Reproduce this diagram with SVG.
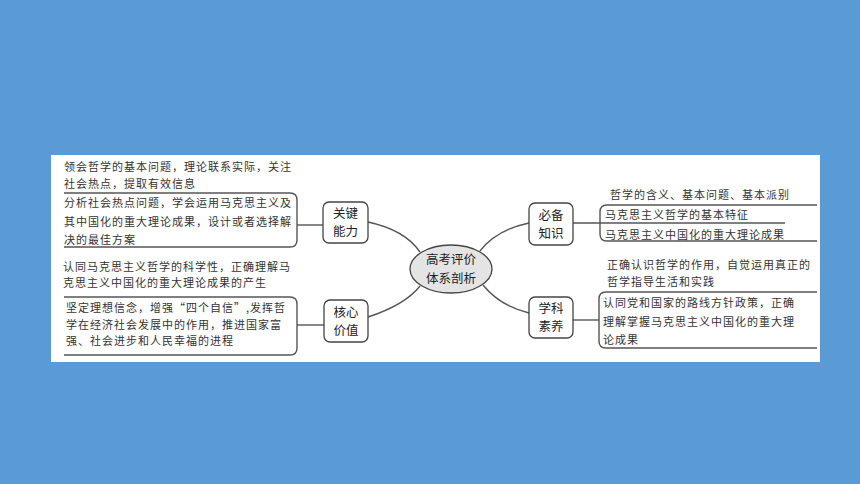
<svg xmlns="http://www.w3.org/2000/svg" width="860" height="484" viewBox="0 0 860 484">
<style>
.t{font-family:"Noto Sans CJK SC","Noto Sans",sans-serif;font-size:11px;letter-spacing:1px;fill:#333}
.n{font-family:"Noto Sans CJK SC","Noto Sans",sans-serif;font-size:12.5px;fill:#222;text-anchor:middle}
.box{fill:#fff;stroke:#444;stroke-width:1.3}
.ln{fill:none;stroke:#555;stroke-width:1.4}
</style>
<rect x="0" y="0" width="860" height="484" fill="#5b9bd5"/>
<rect x="51" y="155" width="769" height="207" fill="#fff"/>
<g id="connectors">
<path class="ln" d="M368,222 Q405,230 420,252"/>
<path class="ln" d="M480,251 Q496,230 529,223"/>
<path class="ln" d="M368,317 Q405,305 420,286"/>
<path class="ln" d="M483,285 Q500,306 529,313"/>
<path class="ln" d="M297,225 H323"/>
<path class="ln" d="M297,325 H324"/>
<path class="ln" d="M573,223 H785"/>
<path class="ln" d="M573,320 H599"/>
<path class="ln" d="M64,193 H290 Q297,193 297,200 V240 Q297,247 290,247 H64"/>
<path class="ln" d="M64,297 H290 Q297,297 297,304 V348 Q297,355 290,355 H64"/>
<path class="ln" d="M817,205 H607 Q600,205 600,212 V234 Q600,241 607,241 H817"/>
<path class="ln" d="M817,292 H606 Q599,292 599,299 V341 Q599,348 606,348 H817"/>
</g>
<g id="center">
<ellipse cx="451" cy="269" rx="41" ry="24" fill="#e4e4e4" stroke="#444" stroke-width="1.3"/>
<text class="n" x="451" y="264">高考评价</text>
<text class="n" x="451" y="282.5">体系剖析</text>
</g>
<g id="guanjian">
<rect class="box" x="323" y="202" width="45" height="41" rx="6"/>
<text class="n" x="345.5" y="218">关键</text>
<text class="n" x="345.5" y="236">能力</text>
</g>
<g id="hexin">
<rect class="box" x="324" y="300" width="44" height="42" rx="6"/>
<text class="n" x="346" y="317">核心</text>
<text class="n" x="346" y="335">价值</text>
</g>
<g id="bibei">
<rect class="box" x="529" y="203" width="44" height="42" rx="6"/>
<text class="n" x="551" y="220">必备</text>
<text class="n" x="551" y="238">知识</text>
</g>
<g id="xueke">
<rect class="box" x="529" y="297" width="44" height="41" rx="6"/>
<text class="n" x="551" y="313">学科</text>
<text class="n" x="551" y="331">素养</text>
</g>
<g id="left-texts">
<text class="t" x="64" y="171">领会哲学的基本问题，理论联系实际，关注</text>
<text class="t" x="64" y="188">社会热点，提取有效信息</text>
<text class="t" x="64" y="207">分析社会热点问题，学会运用马克思主义及</text>
<text class="t" x="64" y="226">其中国化的重大理论成果，设计或者选择解</text>
<text class="t" x="64" y="244">决的最佳方案</text>
<text class="t" x="63" y="271">认同马克思主义哲学的科学性，正确理解马</text>
<text class="t" x="63" y="287">克思主义中国化的重大理论成果的产生</text>
<text class="t" x="66" y="312">坚定理想信念，增强“四个自信”,发挥哲</text>
<text class="t" x="66" y="329">学在经济社会发展中的作用，推进国家富</text>
<text class="t" x="66" y="345">强、社会进步和人民幸福的进程</text>
</g>
<g id="right-texts">
<text class="t" x="610" y="199">哲学的含义、基本问题、基本派别</text>
<text class="t" x="605" y="219">马克思主义哲学的基本特征</text>
<text class="t" x="605" y="239">马克思主义中国化的重大理论成果</text>
<text class="t" x="607" y="269">正确认识哲学的作用，自觉运用真正的</text>
<text class="t" x="607" y="286">哲学指导生活和实践</text>
<text class="t" x="603" y="307">认同党和国家的路线方针政策，正确</text>
<text class="t" x="603" y="326">理解掌握马克思主义中国化的重大理</text>
<text class="t" x="603" y="344">论成果</text>
</g>
</svg>
